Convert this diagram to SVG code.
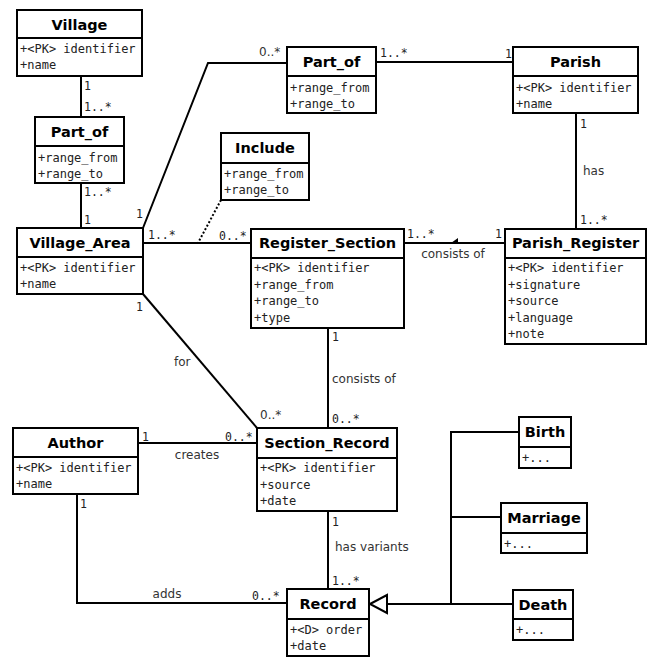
<svg xmlns="http://www.w3.org/2000/svg" width="650" height="658" viewBox="0 0 650 658">
<style>
.box{fill:#fff;stroke:#000;stroke-width:2}
.div{stroke:#000;stroke-width:2}
.t{font-family:"DejaVu Sans",sans-serif;font-weight:bold;font-size:14.5px;text-anchor:middle;fill:#000}
.a{font-family:"DejaVu Sans Mono",monospace;font-size:12px;fill:#222}
.l{font-family:"DejaVu Sans",sans-serif;font-size:12px;fill:#333}
.m{font-family:"DejaVu Sans Mono",monospace;font-size:11.5px;fill:#222}
.c{fill:none;stroke:#000;stroke-width:2}
</style>
<rect width="650" height="658" fill="#fff"/>
<g id="connectors">
  <line class="c" x1="81" y1="76" x2="81" y2="117"/>
  <line class="c" x1="81" y1="183" x2="81" y2="228"/>
  <polyline class="c" points="143,228 208,63 287,63"/>
  <line class="c" x1="376" y1="62" x2="513" y2="62"/>
  <line class="c" x1="143" y1="243" x2="251" y2="243"/>
  <line x1="221" y1="200" x2="198" y2="243" stroke="#000" stroke-width="2" stroke-dasharray="2,2"/>
  <line class="c" x1="404" y1="243" x2="505" y2="243"/>
  <polygon points="451,243 458,238 458,243" fill="#000"/>
  <line class="c" x1="576" y1="113" x2="576" y2="229"/>
  <line class="c" x1="328" y1="328" x2="328" y2="428"/>
  <line class="c" x1="143" y1="294" x2="257" y2="428"/>
  <line class="c" x1="138" y1="443" x2="257" y2="443"/>
  <polyline class="c" points="77,494 77,603 287,603"/>
  <line class="c" x1="328" y1="511" x2="328" y2="589"/>
  <line class="c" x1="387" y1="604" x2="451" y2="604"/>
  <polyline class="c" points="519,432 451,432 451,604 513,604"/>
  <line class="c" x1="451" y1="517" x2="501" y2="517"/>
  <polygon points="370,604 387,595 387,613" fill="#fff" stroke="#000" stroke-width="2"/>
  <text class="m" x="84" y="90">1</text>
  <text class="m" x="84" y="111">1..*</text>
  <text class="m" x="84" y="196">1..*</text>
  <text class="m" x="84" y="224">1</text>
  <text class="m" x="136" y="218">1</text>
  <text class="l" x="259" y="56" font-size="11">0..*</text>
  <text class="m" x="380" y="57">1..*</text>
  <text class="m" x="505" y="58">1</text>
  <text class="m" x="148" y="239">1..*</text>
  <text class="m" x="219" y="240">0..*</text>
  <text class="m" x="407" y="238">1..*</text>
  <text class="m" x="495" y="238">1</text>
  <text class="l" x="453" y="258" text-anchor="middle">consists of</text>
  <text class="m" x="580" y="128">1</text>
  <text class="l" x="583" y="175">has</text>
  <text class="m" x="580" y="224">1..*</text>
  <text class="m" x="332" y="341">1</text>
  <text class="l" x="332" y="383">consists of</text>
  <text class="m" x="332" y="423">0..*</text>
  <text class="m" x="136" y="311">1</text>
  <text class="l" x="174" y="366">for</text>
  <text class="l" x="260" y="419" font-size="11">0..*</text>
  <text class="m" x="142" y="441">1</text>
  <text class="m" x="225" y="441">0..*</text>
  <text class="l" x="197" y="459" text-anchor="middle">creates</text>
  <text class="m" x="80" y="508">1</text>
  <text class="l" x="167" y="598" text-anchor="middle">adds</text>
  <text class="m" x="252" y="600">0..*</text>
  <text class="m" x="332" y="526">1</text>
  <text class="l" x="335" y="551">has variants</text>
  <text class="m" x="332" y="585">1..*</text>
</g>
<g id="Village">
  <rect class="box" x="17" y="10" width="125" height="66"/>
  <line class="div" x1="17" y1="38" x2="142" y2="38"/>
  <text class="t" x="79.5" y="30">Village</text>
  <text class="a" x="20" y="53">+&lt;PK&gt; identifier</text>
  <text class="a" x="20" y="69">+name</text>
</g>
<g id="Part_of_left">
  <rect class="box" x="35" y="117" width="89" height="66"/>
  <line class="div" x1="35" y1="146" x2="124" y2="146"/>
  <text class="t" x="79.5" y="137">Part_of</text>
  <text class="a" x="38" y="162">+range_from</text>
  <text class="a" x="38" y="178">+range_to</text>
</g>
<g id="Village_Area">
  <rect class="box" x="17" y="228" width="126" height="66"/>
  <line class="div" x1="17" y1="257" x2="143" y2="257"/>
  <text class="t" x="80" y="248">Village_Area</text>
  <text class="a" x="20" y="272">+&lt;PK&gt; identifier</text>
  <text class="a" x="20" y="288">+name</text>
</g>
<g id="Part_of_top">
  <rect class="box" x="287" y="47" width="89" height="66"/>
  <line class="div" x1="287" y1="76" x2="376" y2="76"/>
  <text class="t" x="331.5" y="67">Part_of</text>
  <text class="a" x="290" y="92">+range_from</text>
  <text class="a" x="290" y="108">+range_to</text>
</g>
<g id="Parish">
  <rect class="box" x="513" y="47" width="125" height="66"/>
  <line class="div" x1="513" y1="76" x2="638" y2="76"/>
  <text class="t" x="575.5" y="67">Parish</text>
  <text class="a" x="516" y="92">+&lt;PK&gt; identifier</text>
  <text class="a" x="516" y="108">+name</text>
</g>
<g id="Include">
  <rect class="box" x="221" y="133" width="88" height="67"/>
  <line class="div" x1="221" y1="163" x2="309" y2="163"/>
  <text class="t" x="265" y="153">Include</text>
  <text class="a" x="224" y="178">+range_from</text>
  <text class="a" x="224" y="194">+range_to</text>
</g>
<g id="Register_Section">
  <rect class="box" x="251" y="229" width="153" height="99"/>
  <line class="div" x1="251" y1="258" x2="404" y2="258"/>
  <text class="t" x="327.5" y="248">Register_Section</text>
  <text class="a" x="254" y="272">+&lt;PK&gt; identifier</text>
  <text class="a" x="254" y="288.5">+range_from</text>
  <text class="a" x="254" y="305">+range_to</text>
  <text class="a" x="254" y="321.5">+type</text>
</g>
<g id="Parish_Register">
  <rect class="box" x="505" y="229" width="141" height="115"/>
  <line class="div" x1="505" y1="258" x2="646" y2="258"/>
  <text class="t" x="575.5" y="248">Parish_Register</text>
  <text class="a" x="508" y="272">+&lt;PK&gt; identifier</text>
  <text class="a" x="508" y="288.5">+signature</text>
  <text class="a" x="508" y="305">+source</text>
  <text class="a" x="508" y="321.5">+language</text>
  <text class="a" x="508" y="338">+note</text>
</g>
<g id="Author">
  <rect class="box" x="13" y="428" width="125" height="66"/>
  <line class="div" x1="13" y1="457" x2="138" y2="457"/>
  <text class="t" x="75.5" y="448">Author</text>
  <text class="a" x="16" y="472">+&lt;PK&gt; identifier</text>
  <text class="a" x="16" y="488">+name</text>
</g>
<g id="Section_Record">
  <rect class="box" x="257" y="428" width="140" height="83"/>
  <line class="div" x1="257" y1="458" x2="397" y2="458"/>
  <text class="t" x="327" y="448">Section_Record</text>
  <text class="a" x="260" y="472">+&lt;PK&gt; identifier</text>
  <text class="a" x="260" y="488.5">+source</text>
  <text class="a" x="260" y="505">+date</text>
</g>
<g id="Record">
  <rect class="box" x="287" y="589" width="82" height="67"/>
  <line class="div" x1="287" y1="619" x2="369" y2="619"/>
  <text class="t" x="328" y="609">Record</text>
  <text class="a" x="290" y="634">+&lt;D&gt; order</text>
  <text class="a" x="290" y="650">+date</text>
</g>
<g id="Birth">
  <rect class="box" x="519" y="417" width="52" height="51"/>
  <line class="div" x1="519" y1="447" x2="571" y2="447"/>
  <text class="t" x="545" y="437">Birth</text>
  <text class="a" x="522" y="462">+...</text>
</g>
<g id="Marriage">
  <rect class="box" x="501" y="503" width="86" height="50"/>
  <line class="div" x1="501" y1="533" x2="587" y2="533"/>
  <text class="t" x="544" y="523">Marriage</text>
  <text class="a" x="504" y="548">+...</text>
</g>
<g id="Death">
  <rect class="box" x="513" y="590" width="60" height="50"/>
  <line class="div" x1="513" y1="619" x2="573" y2="619"/>
  <text class="t" x="543" y="610">Death</text>
  <text class="a" x="516" y="634">+...</text>
</g>
</svg>
